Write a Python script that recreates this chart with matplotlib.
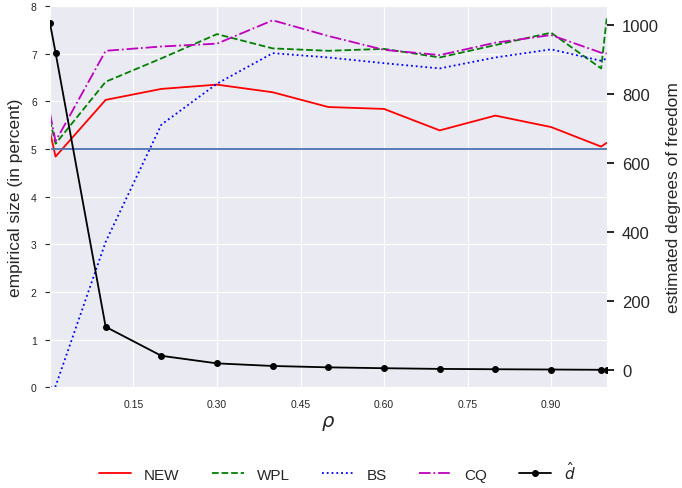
import matplotlib
matplotlib.use("Agg")
import matplotlib.pyplot as plt
import seaborn as sns

# rho grid
rho = [0.0, 0.01, 0.1, 0.2, 0.3, 0.4, 0.5, 0.6, 0.7, 0.8, 0.9, 0.99, 1.0]

# empirical size (in percent)
size_new = [5.36, 4.84, 6.03, 6.26, 6.35, 6.19, 5.88, 5.84, 5.39, 5.70, 5.46, 5.05, 5.13]
size_wpl = [5.60, 5.11, 6.41, 6.90, 7.41, 7.11, 7.06, 7.10, 6.92, 7.18, 7.44, 6.69, 7.74]
size_bs = [0.0, 0.02, 3.05, 5.51, 6.37, 7.01, 6.92, 6.80, 6.69, 6.92, 7.09, 6.85, 6.90]
size_cq = [5.75, 5.16, 7.06, 7.15, 7.21, 7.70, 7.37, 7.08, 6.97, 7.23, 7.39, 7.02, 7.00]
nominal = 5

# estimated degrees of freedom
d_hat = [1005, 920, 125, 41, 19, 11.5, 7.5, 5, 3, 2, 1.2, 0.4, 0]

xticks = [0.15, 0.30, 0.45, 0.60, 0.75, 0.90]

sns.set_style("darkgrid")
plt.rcParams['font.family'] = ['Liberation Sans', 'DejaVu Sans']

fig = plt.figure(figsize=(6.82, 4.89), dpi=100)
ax = fig.add_axes([0.0733, 0.206, 0.8163, 0.7797])

l1, = ax.plot(rho, size_new, color='r', lw=1.3, label='NEW')
l2, = ax.plot(rho, size_wpl, color='g', lw=1.3, ls='--', label='WPL')
l3, = ax.plot(rho, size_bs, color='b', lw=1.3, ls=':', label='BS')
l4, = ax.plot(rho, size_cq, color='m', lw=1.3, ls='-.', label='CQ')
ax.axhline(nominal, color='#4c72b0', lw=1.3)
ax.set_xlim(0, 1)
ax.set_ylim(0, 8)
ax.set_xticks(xticks)
ax.set_xticklabels(["%.2f" % t for t in xticks], fontsize=7.5)
ax.tick_params(axis='y', labelsize=7.5, pad=6)
ax.tick_params(axis='x', pad=5)
ax.set_xlabel(r"$\rho$", fontsize=14, labelpad=3)
ax.set_ylabel("empirical size (in percent)", fontsize=12.5, labelpad=6)

ax2 = ax.twinx()
ax2.grid(False)
l5, = ax2.plot(rho, d_hat, color='k', lw=1.3, marker='o', ms=4, label=r"$\hat{d}$")
ax2.tick_params(axis='y', length=5, width=1.2, color='k', direction='out', labelsize=12, pad=6)
ax2.set_ylabel("estimated degrees of freedom", fontsize=12.5, labelpad=5)
ax2.set_yticks([0, 200, 400, 600, 800, 1000])
for s in ax2.spines.values():
    s.set_visible(False)

fig.legend(handles=[l1, l2, l3, l4, l5], loc='center', ncol=5,
           bbox_to_anchor=(0.495, 0.035), frameon=False, fontsize=11,
           columnspacing=2.1, handlelength=2.1, handletextpad=0.85)

fig.savefig("out.png", dpi=100)
